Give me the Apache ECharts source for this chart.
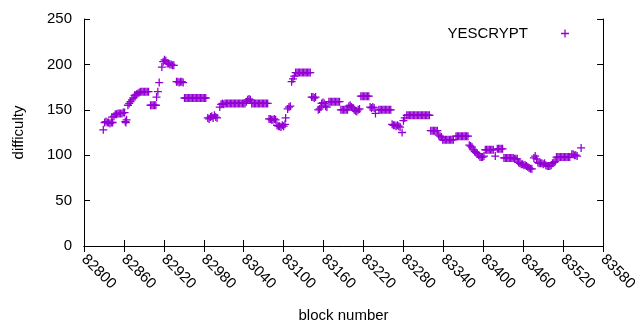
<!DOCTYPE html>
<html>
<head>
<meta charset="utf-8">
<script src="https://cdn.jsdelivr.net/npm/echarts@6/dist/echarts.min.js"></script>
<style>
  html, body { margin: 0; padding: 0; background: #fff; }
  #main { width: 640px; height: 330px; }
</style>
</head>
<body>
<div id="main"></div>
<script>
// block numbers (offset from 82800) and difficulty
var blockOffset = [
    29, 31, 33, 35, 37, 39, 41, 43, 42,
    45, 47, 49, 51, 53, 55, 57, 59, 61, 62, 63, 64,
    66, 68, 70, 72, 74, 76, 77, 79, 81, 83, 85, 87, 89, 91, 93, 95, 97,
    100, 102, 104, 106, 108, 109, 111, 113,
    117, 119, 121, 123, 125, 127, 129, 131, 133, 135,
    139, 141, 143, 145, 147, 149,
    151, 153, 155, 157, 159, 161, 163, 165, 167, 169, 171, 173, 175, 177, 179, 181, 183,
    186, 188, 190, 192, 194, 196, 198, 200,
    204, 206, 208, 210, 212, 214, 216, 218, 220, 222, 224, 226, 228, 230, 232, 234, 236, 238, 240, 242,
    244, 246, 248, 250,
    252, 254, 256, 258, 260, 262, 264, 266, 268, 270, 272, 274, 276,
    278, 280, 282, 284, 286, 288,
    290, 292, 294, 296, 298, 300, 302, 303, 306, 308, 310,
    312, 314, 316, 318, 320, 322, 324, 326, 328, 330, 332, 334, 336, 338, 340,
    342, 344, 346, 348, 352, 354, 356, 357, 359, 361, 363, 365,
    368, 370, 372, 374, 376, 378, 380, 382, 384,
    386, 388, 390, 392, 394, 396, 398, 400, 402,
    404, 406, 408, 410, 412, 414,
    416, 418, 420, 422, 424, 426, 428,
    430, 432, 434, 436, 438,
    443, 445, 447, 449, 451, 453, 455, 457, 459, 461,
    463, 465, 467, 469, 471, 473, 475, 478, 480, 482,
    485, 487, 489, 491, 493, 495, 497, 499, 501, 503, 505, 507, 509, 511, 513, 515, 517, 519,
    521, 523, 525, 527, 529, 531, 533, 535, 537,
    539, 541, 543, 545, 547, 549, 551, 553, 555,
    559, 561, 563, 565, 567, 569, 571, 573, 575, 577,
    579, 581, 583, 585, 587, 589, 591,
    593, 595, 597, 599, 601,
    603, 605, 607, 609, 611, 613, 615, 618,
    621, 623, 625, 627, 629,
    631, 633, 635, 637, 639, 641, 643, 645, 647, 649, 651,
    653, 655, 657, 659, 661, 663, 665, 667, 669, 671, 673,
    676, 678, 680, 682, 684, 686, 688, 690, 692,
    694, 696, 698, 700, 702, 704, 706, 708,
    710, 712, 714, 716, 718, 720, 722, 724, 726, 728, 730,
    733, 735, 737, 739, 741, 747
];
var difficulty = [
    128, 136, 137, 136, 136, 135, 136, 136, 142,
    143, 145, 145, 146, 146, 146, 146, 147, 147, 137, 136, 139,
    155, 157, 159, 161, 163, 166, 166, 167, 168, 169, 170, 170, 170, 170, 170, 170, 170,
    155, 155, 155, 155, 155, 164, 170, 180,
    197, 203, 205, 204, 201, 201, 200, 200, 199, 199,
    181, 181, 180, 181, 181, 180,
    163, 163, 163, 163, 163, 163, 163, 163, 163, 163, 163, 163, 163, 163, 163, 163, 163,
    141, 140, 142, 143, 141, 144, 142, 141,
    153, 156, 157, 156, 157, 157, 157, 157, 157, 157, 157, 157, 157, 157, 157, 157, 157, 157, 157, 157,
    159, 161, 162, 161,
    157, 157, 157, 157, 157, 157, 157, 157, 157, 157, 157, 157, 157,
    140, 140, 139, 139, 140, 139,
    133, 132, 132, 131, 133, 132, 134, 141, 151, 153, 154,
    181, 184, 187, 191, 191, 191, 191, 191, 191, 191, 191, 191, 191, 191, 191,
    164, 164, 163, 164, 150, 151, 153, 157, 158, 157, 154, 153,
    159, 159, 159, 159, 159, 159, 159, 159, 159,
    150, 150, 150, 150, 150, 150, 154, 155, 153,
    152, 150, 149, 148, 150, 151,
    165, 165, 165, 165, 165, 165, 165,
    153, 152, 153, 152, 146,
    150, 150, 150, 150, 150, 150, 150, 150, 150, 150,
    134, 133, 133, 132, 133, 132, 131, 125, 138, 141,
    144, 144, 144, 144, 144, 144, 144, 144, 144, 144, 144, 144, 144, 144, 144, 144, 144, 144,
    127, 127, 127, 127, 127, 127, 122, 121, 120,
    117, 117, 117, 117, 117, 117, 117, 117, 117,
    121, 121, 121, 121, 121, 121, 121, 121, 121, 121,
    111, 110, 109, 106, 104, 103, 102,
    100, 98, 98, 98, 99,
    106, 106, 106, 106, 106, 106, 106, 99,
    107, 107, 107, 107, 107,
    97, 97, 97, 97, 97, 97, 97, 97, 96, 96, 96,
    92, 91, 90, 90, 89, 89, 88, 87, 86, 85, 85,
    97, 99, 96, 92, 91, 91, 91, 90, 91,
    89, 88, 88, 88, 89, 91, 92, 93,
    98, 98, 98, 98, 98, 98, 98, 98, 98, 98, 98,
    101, 101, 100, 100, 99, 108
];
var blockBase = 82800;
var xTicks = { min: 82800, max: 83580, step: 60 };
var yTicks = { min: 0, max: 250, step: 50 };

var points = [];
for (var i = 0; i < blockOffset.length; i++) {
    points.push([blockBase + blockOffset[i], difficulty[i]]);
}

// gnuplot style "+" point, drawn as two filled bars
var plusSymbol = 'path://M0,4.2H10V5.8H0Z M4.2,0H5.8V10H4.2Z';
var font = 'Liberation Sans, Arial, sans-serif';

var axisCommon = {
    axisLine: { show: true, lineStyle: { color: '#000', width: 1 } },
    axisTick: { show: true, inside: true, length: 6, lineStyle: { color: '#000' } },
    splitLine: { show: false }
};

var option = {
    animation: false,
    backgroundColor: '#fff',
    textStyle: { fontFamily: font },
    grid: { left: 84, right: 31, top: 19, bottom: 84 },
    legend: {
        right: 66,
        top: 21,
        align: 'right',
        itemWidth: 8,
        itemHeight: 8,
        textStyle: { fontSize: 15, color: '#000', fontFamily: font, padding: [0, 28, 0, 0] },
        data: [{ name: 'YESCRYPT', icon: plusSymbol }]
    },
    xAxis: [
        Object.assign({}, axisCommon, {
            type: 'value',
            min: xTicks.min, max: xTicks.max, interval: xTicks.step,
            name: 'block number',
            nameLocation: 'middle',
            nameGap: 62,
            nameTextStyle: { fontSize: 15, color: '#000' },
            axisLabel: {
                rotate: -45, fontSize: 15, color: '#000', margin: 11,
                formatter: function (v) { return String(v); }
            }
        }),
        Object.assign({}, axisCommon, {
            type: 'value', position: 'top',
            min: xTicks.min, max: xTicks.max, interval: xTicks.step,
            axisLabel: { show: false }
        })
    ],
    yAxis: [
        Object.assign({}, axisCommon, {
            type: 'value',
            min: yTicks.min, max: yTicks.max, interval: yTicks.step,
            name: 'difficulty',
            nameLocation: 'middle',
            nameGap: 58,
            nameTextStyle: { fontSize: 15, color: '#000' },
            axisLabel: { fontSize: 15, color: '#000', margin: 12 }
        }),
        Object.assign({}, axisCommon, {
            type: 'value', position: 'right',
            min: yTicks.min, max: yTicks.max, interval: yTicks.step,
            axisLabel: { show: false }
        })
    ],
    series: [
        {
            name: 'YESCRYPT',
            type: 'scatter',
            symbol: plusSymbol,
            symbolSize: 8,
            itemStyle: { color: '#9400d3', opacity: 1 },
            data: points
        }
    ]
};

var chart = echarts.init(document.getElementById('main'), null, { renderer: 'canvas' });
chart.setOption(option);
</script>
</body>
</html>
